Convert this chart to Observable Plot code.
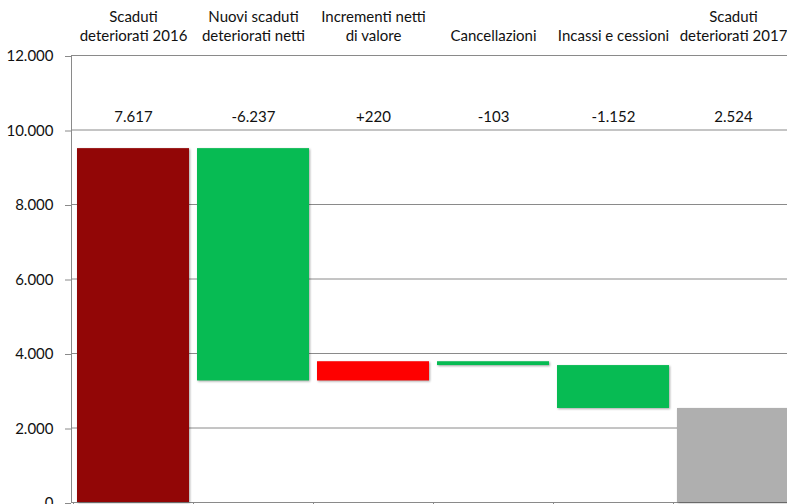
<!DOCTYPE html>
<html>
<head>
<meta charset="utf-8">
<script src="https://cdn.jsdelivr.net/npm/d3@7"></script>
<script src="https://cdn.jsdelivr.net/npm/@observablehq/plot@0.6"></script>
<style>
  html, body { margin: 0; padding: 0; background: #fff; overflow: hidden; width: 787px; height: 504px; }
  #chart svg { display: block; max-width: none; }
  #chart svg g[aria-label="bar"] rect { filter: drop-shadow(1.5px 1.5px 1.2px rgba(0,0,0,0.35)); }
</style>
</head>
<body>
<div id="chart"></div>
<script>
// Waterfall: bad-debt stock 2016 → 2017 (millions)
const categories = [
  "Scaduti\ndeteriorati 2016",
  "Nuovi scaduti\ndeteriorati netti",
  "Incrementi netti\ndi valore",
  "Cancellazioni",
  "Incassi e cessioni",
  "Scaduti\ndeteriorati 2017"
];
// lower / upper edge of each floating bar
const barStart = [0, 9500, 3263, 3779, 3676, 0];
const barEnd   = [9500, 3263, 3779, 3676, 2524, 2524];
const valueLabels = ["7.617", "-6.237", "+220", "-103", "-1.152", "2.524"];
const barColors = ["#920606", "#07BB53", "#FE0000", "#07BB53", "#07BB53", "#AFAFAF"];
const yTicks = [0, 2000, 4000, 6000, 8000, 10000, 12000];

const itNumber = d3.formatLocale({decimal: ",", thousands: ".", grouping: [3], currency: ["€", ""]}).format(",d");

const rows = categories.map((c, i) => ({
  category: c, start: barStart[i], end: barEnd[i], label: valueLabels[i], color: barColors[i]
}));

const lineColor = "#8a8a8a";

const chart = Plot.plot({
  width: 800,
  height: 520,
  marginLeft: 71,
  marginRight: 6,
  marginTop: 55,
  marginBottom: 18,
  style: {fontFamily: "Lato, sans-serif", fontSize: "15px", color: "#111", background: "#fff"},
  x: {domain: categories, paddingInner: 0.07, paddingOuter: 0.035, axis: null},
  y: {domain: [0, 12000], axis: null},
  color: {type: "identity"},
  marks: [
    Plot.gridY(yTicks, {stroke: lineColor, strokeOpacity: 1, strokeWidth: 1}),
    Plot.axisY(yTicks, {tickFormat: itNumber, tickSize: 6, tickPadding: 12, stroke: lineColor, fill: "#111", fontSize: 15, label: null, dy: 1}),
    Plot.frame({anchor: "left", stroke: lineColor}),
    Plot.ruleY([0], {stroke: lineColor}),
    Plot.barY(rows, {x: "category", y1: "start", y2: "end", fill: "color"}),
    Plot.text(rows, {x: "category", text: "category", frameAnchor: "top", lineAnchor: "bottom", lineHeight: 1.22, dy: -15, fill: "#111", fontSize: 15}),
    Plot.text(rows, {x: "category", text: "label", frameAnchor: "top", lineAnchor: "middle", dy: 62, fill: "#111", fontSize: 15})
  ]
});

// small tick marks at the category boundaries below the baseline
const xs = chart.scale("x");
const ys = chart.scale("y");
const step = xs.step;
const innerGap = (step - xs.bandwidth) / 2;
const bounds = categories.map(c => xs.apply(c) - innerGap);
bounds.push(xs.apply(categories[categories.length - 1]) + xs.bandwidth + innerGap);
const y0 = ys.apply(0);
d3.select(chart).append("g")
  .attr("stroke", lineColor)
  .selectAll("line")
  .data(bounds)
  .join("line")
  .attr("x1", d => Math.round(d) + 0.5)
  .attr("x2", d => Math.round(d) + 0.5)
  .attr("y1", y0)
  .attr("y2", y0 + 6);

document.getElementById("chart").append(chart);
</script>
</body>
</html>
